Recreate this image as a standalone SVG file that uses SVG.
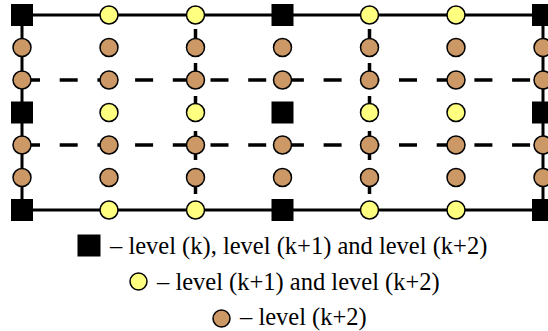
<svg xmlns="http://www.w3.org/2000/svg" width="548" height="331" viewBox="0 0 548 331">
<style>
.solid{stroke:#000;stroke-width:3;fill:none}
.dash{stroke:#000;stroke-width:3.5;fill:none;stroke-dasharray:18 19.7}
.vdash{stroke:#000;stroke-width:3.5;fill:none}
.sq{fill:#000}
.y{fill:#ffff80;stroke:#000;stroke-width:1.5}
.b{fill:#cc9966;stroke:#000;stroke-width:1.5}
text{font-size:24.5px;fill:#000}
</style>
<defs>
<rect id="S" x="-11" y="-11" width="22" height="22"/>
<circle id="Y" r="9"/>
<circle id="B" r="9"/>
</defs>
<g id="connectors">
<path class="solid" d="M22 15H543M22 210H543M22 15V210M543 15V210"/>
<path class="dash" d="M22 80H543M22 145H543"/>
<path class="vdash" d="M195.5 29V40M195.5 63V75M195.5 96V106M195.5 131V139M195.5 152V160M195.5 184V194"/>
<path class="vdash" d="M369.5 29V40M369.5 63V75M369.5 96V106M369.5 131V139M369.5 152V160M369.5 184V194"/>
</g>
<g id="nodes">
<g id="row0">
<use href="#S" class="sq" x="22" y="15"/><use href="#Y" class="y" x="109" y="15"/><use href="#Y" class="y" x="195.5" y="15"/><use href="#S" class="sq" x="282.5" y="15"/><use href="#Y" class="y" x="369.5" y="15"/><use href="#Y" class="y" x="456" y="15"/><use href="#S" class="sq" x="543" y="15"/>
</g>
<g id="row1">
<use href="#B" class="b" x="22" y="47.5"/><use href="#B" class="b" x="109" y="47.5"/><use href="#B" class="b" x="195.5" y="47.5"/><use href="#B" class="b" x="282.5" y="47.5"/><use href="#B" class="b" x="369.5" y="47.5"/><use href="#B" class="b" x="456" y="47.5"/><use href="#B" class="b" x="543" y="47.5"/>
</g>
<g id="row2">
<use href="#B" class="b" x="22" y="80"/><use href="#B" class="b" x="109" y="80"/><use href="#B" class="b" x="195.5" y="80"/><use href="#B" class="b" x="282.5" y="80"/><use href="#B" class="b" x="369.5" y="80"/><use href="#B" class="b" x="456" y="80"/><use href="#B" class="b" x="543" y="80"/>
</g>
<g id="row3">
<use href="#S" class="sq" x="22" y="112.5"/><use href="#Y" class="y" x="109" y="112.5"/><use href="#Y" class="y" x="195.5" y="112.5"/><use href="#S" class="sq" x="282.5" y="112.5"/><use href="#Y" class="y" x="369.5" y="112.5"/><use href="#Y" class="y" x="456" y="112.5"/><use href="#S" class="sq" x="543" y="112.5"/>
</g>
<g id="row4">
<use href="#B" class="b" x="22" y="145"/><use href="#B" class="b" x="109" y="145"/><use href="#B" class="b" x="195.5" y="145"/><use href="#B" class="b" x="282.5" y="145"/><use href="#B" class="b" x="369.5" y="145"/><use href="#B" class="b" x="456" y="145"/><use href="#B" class="b" x="543" y="145"/>
</g>
<g id="row5">
<use href="#B" class="b" x="22" y="177.5"/><use href="#B" class="b" x="109" y="177.5"/><use href="#B" class="b" x="195.5" y="177.5"/><use href="#B" class="b" x="282.5" y="177.5"/><use href="#B" class="b" x="369.5" y="177.5"/><use href="#B" class="b" x="456" y="177.5"/><use href="#B" class="b" x="543" y="177.5"/>
</g>
<g id="row6">
<use href="#S" class="sq" x="22" y="210"/><use href="#Y" class="y" x="109" y="210"/><use href="#Y" class="y" x="195.5" y="210"/><use href="#S" class="sq" x="282.5" y="210"/><use href="#Y" class="y" x="369.5" y="210"/><use href="#Y" class="y" x="456" y="210"/><use href="#S" class="sq" x="543" y="210"/>
</g>
</g>
<g id="legend" font-family="'Liberation Serif', 'Times New Roman', serif">
<g id="legend-square"><rect class="sq" x="77.5" y="234.5" width="23" height="22"/><text x="110" y="254" font-family="Liberation Serif, serif">– level (k), level (k+1) and level (k+2)</text></g>
<g id="legend-yellow"><circle class="y" cx="138.5" cy="281.5" r="8.5"/><text x="157" y="290" font-family="Liberation Serif, serif">– level (k+1) and level (k+2)</text></g>
<g id="legend-brown"><circle class="b" cx="221.5" cy="318.5" r="8.5"/><text x="240" y="325" font-family="Liberation Serif, serif">– level (k+2)</text></g>
</g>
</svg>
